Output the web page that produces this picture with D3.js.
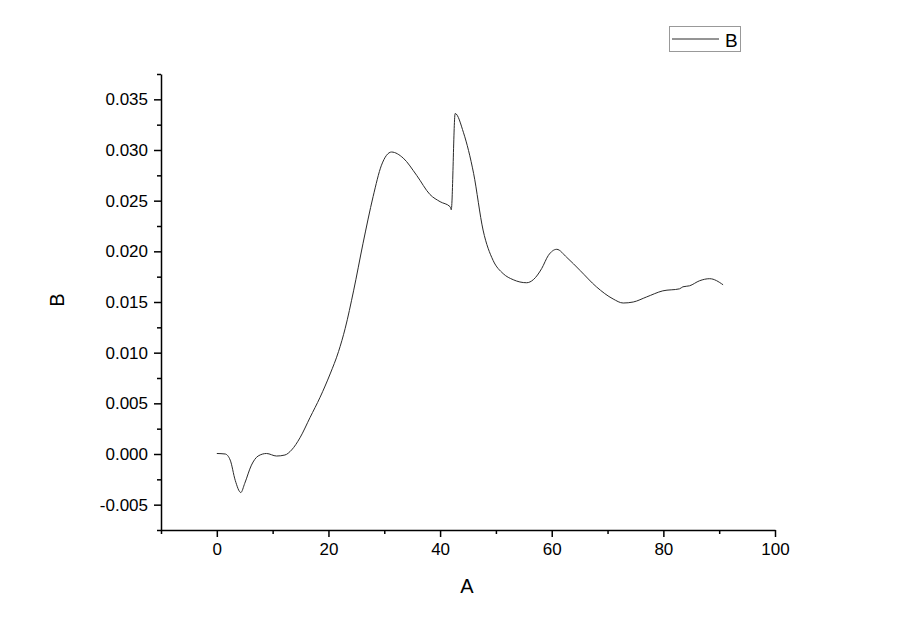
<!DOCTYPE html>
<html>
<head>
<meta charset="utf-8">
<script src="https://cdn.jsdelivr.net/npm/d3@7.9.0/dist/d3.min.js"></script>
<style>
  body { margin: 0; background: #fff; }
  svg { display: block; font-family: 'Liberation Sans', Arial, sans-serif; }
  .axis path, .axis line { stroke: #000; stroke-width: 1.5; }
  .axis text { font-size: 17px; fill: #000; }
</style>
</head>
<body>
<svg id="chart" width="900" height="635"></svg>
<script>
// values
const xValues = [0, 1.5, 2.4, 3.3, 4.3, 5.0, 6.2, 7.4, 8.9, 10.7, 12.2, 13.4, 14.9, 16.7, 18.5,
  20.3, 21.8, 23.0, 24.5, 26.2, 28.0, 29.5, 31.3, 33.4, 35.8, 38.2, 40.0, 41.8, 42.0, 42.7,
  44.2, 46.0, 47.7, 49.5, 51.3, 53.1, 55.5, 56.7, 58.2, 59.4, 60.9, 62.7, 65.1, 68.0,
  71.0, 72.8, 74.6, 77.0, 79.9, 82.9, 83.5, 84.7, 86.5, 88.3, 90.7];
const bValues = [0.00005, 0.0, -0.0006, -0.0026, -0.0038, -0.0029, -0.0011, -0.0002, 0.00005,
  -0.0002, -0.0001, 0.0004, 0.0016, 0.0036, 0.0056, 0.0079, 0.0101, 0.0124, 0.0161, 0.0208,
  0.0254, 0.0285, 0.0298, 0.0292, 0.0275, 0.0256, 0.0249, 0.0244, 0.0241, 0.0336, 0.0317,
  0.0277, 0.0221, 0.0191, 0.0178, 0.0172, 0.0169, 0.0172, 0.0183, 0.0196, 0.0202, 0.0194,
  0.0181, 0.0165, 0.0153, 0.0149, 0.0150, 0.0155, 0.0161, 0.0163, 0.0165, 0.0166, 0.0171,
  0.0173, 0.0167];
const xTicks = [0, 20, 40, 60, 80, 100];
const xMinorTicks = [-10, 10, 30, 50, 70, 90];
const yTicks = [-0.005, 0, 0.005, 0.01, 0.015, 0.02, 0.025, 0.03, 0.035];
const yMinorTicks = [-0.0075, -0.0025, 0.0025, 0.0075, 0.0125, 0.0175, 0.0225, 0.0275, 0.0325, 0.0375];

const svg = d3.select('#chart');
const x = d3.scaleLinear().domain([-10, 100]).range([161, 775]);
const y = d3.scaleLinear().domain([-0.0075, 0.0375]).range([530, 74]);

const points = xValues.map((v, i) => [v, bValues[i]]);

// minor ticks first, major axes on top
svg.append('g')
  .attr('class', 'axis')
  .attr('transform', 'translate(0,530)')
  .call(d3.axisBottom(x).tickValues(xMinorTicks).tickSize(4).tickFormat(''))
  .select('.domain').remove();
svg.append('g')
  .attr('class', 'axis')
  .attr('transform', 'translate(161,0)')
  .call(d3.axisLeft(y).tickValues(yMinorTicks).tickSize(4).tickFormat(''))
  .select('.domain').remove();

svg.append('g')
  .attr('class', 'axis')
  .attr('transform', 'translate(0,530)')
  .call(d3.axisBottom(x).tickValues(xTicks).tickSize(7).tickSizeOuter(0).tickPadding(6).tickFormat(d3.format('d')));

svg.append('g')
  .attr('class', 'axis')
  .attr('transform', 'translate(161,0)')
  .call(d3.axisLeft(y).tickValues(yTicks).tickSize(7).tickSizeOuter(0).tickPadding(6))
  .selectAll('text').text((d) => d3.format('.3f')(d).replace('−', '-'));

svg.append('path')
  .datum(points)
  .attr('fill', 'none')
  .attr('stroke', '#2a2a2a')
  .attr('stroke-width', 1)
  .attr('d', d3.line().x((d) => x(d[0])).y((d) => y(d[1])).curve(d3.curveMonotoneX));

svg.append('text')
  .attr('x', 467)
  .attr('y', 593)
  .attr('text-anchor', 'middle')
  .attr('font-size', 20)
  .text('A');

svg.append('text')
  .attr('transform', 'translate(64,300) rotate(-90)')
  .attr('text-anchor', 'middle')
  .attr('font-size', 20)
  .text('B');

// legend
const legend = svg.append('g');
legend.append('rect')
  .attr('x', 669.5).attr('y', 26.5).attr('width', 71).attr('height', 25)
  .attr('fill', '#fff').attr('stroke', '#999').attr('stroke-width', 1);
legend.append('line')
  .attr('x1', 672).attr('x2', 719).attr('y1', 39).attr('y2', 39)
  .attr('stroke', '#2a2a2a').attr('stroke-width', 1);
legend.append('text')
  .attr('x', 725).attr('y', 46.5)
  .attr('font-size', 19)
  .text('B');
</script>
</body>
</html>
